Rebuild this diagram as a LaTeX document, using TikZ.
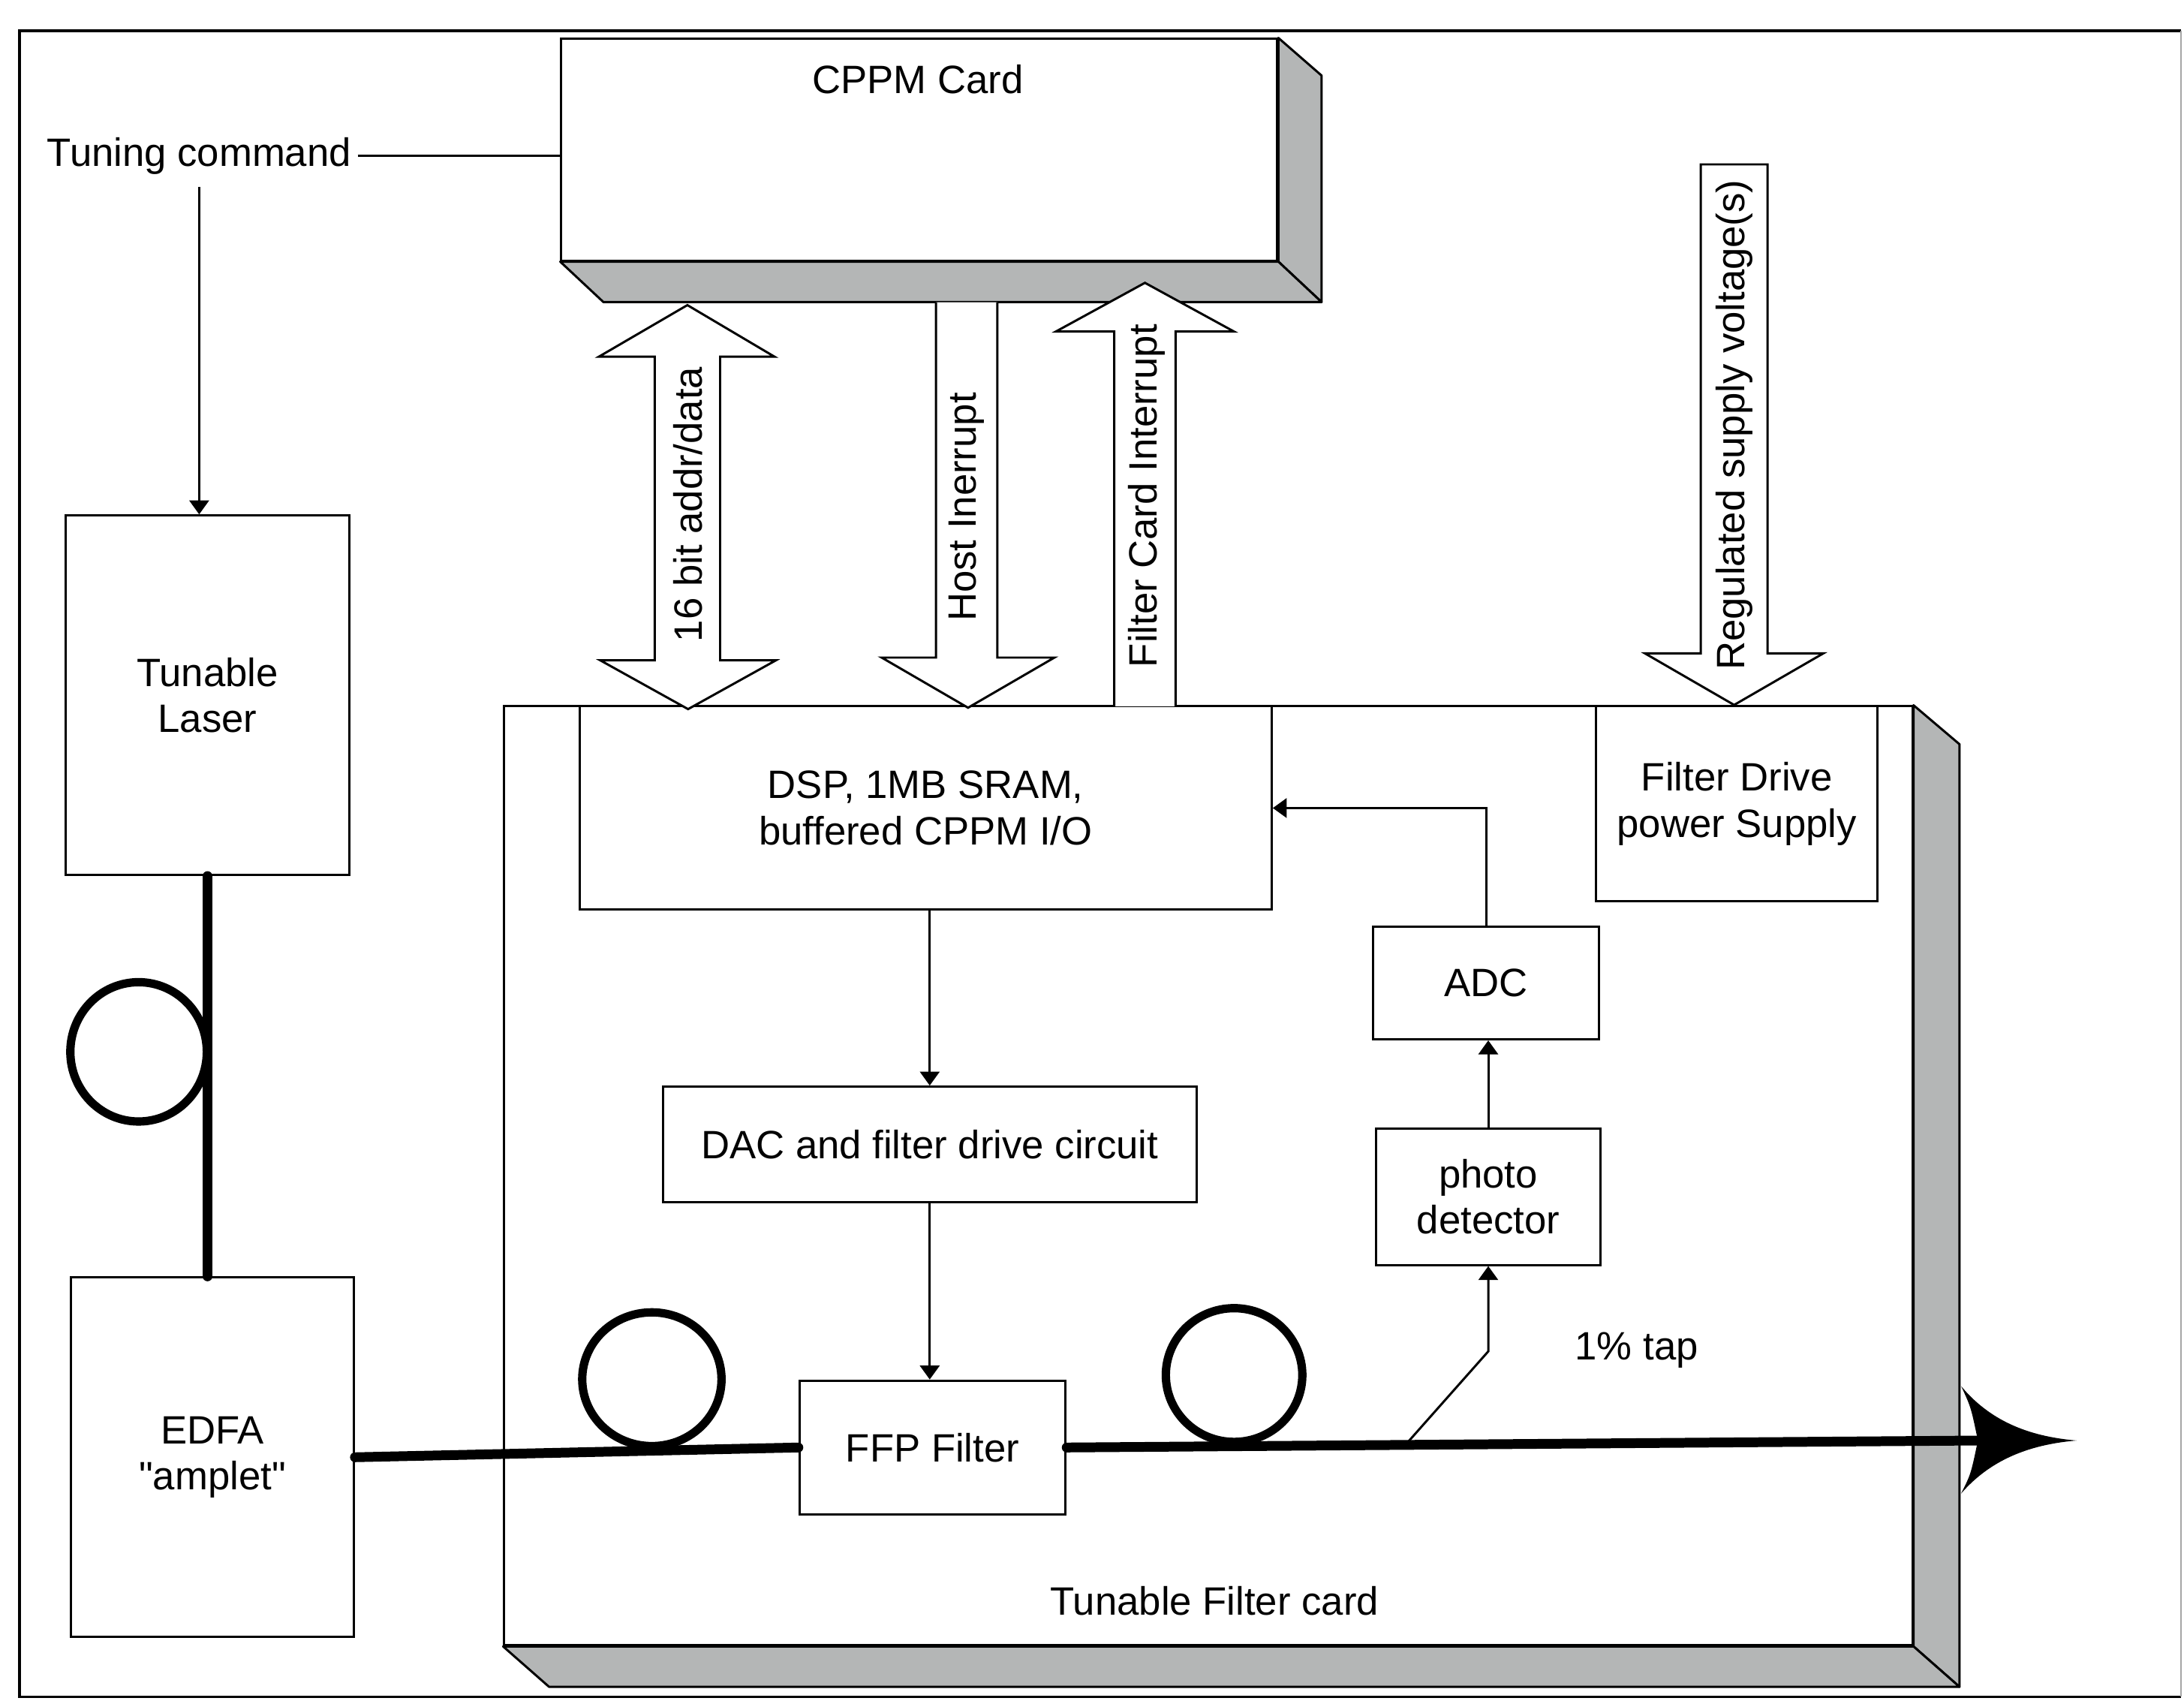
\documentclass[tikz,border=0pt]{standalone}
\usepackage{fontspec}
\newfontfamily\diagfont{Liberation Sans}
\usetikzlibrary{arrows.meta,calc}
\definecolor{facegray}{RGB}{180,182,182}
\begin{document}
\begin{tikzpicture}[x=0.5pt,y=-0.5pt,line width=0.8pt,
  font=\diagfont\fontsize{14.2}{16.5}\selectfont,
  blk/.style 2 args={draw,fill=white,inner sep=0pt,align=center,minimum width=#1*0.5pt,minimum height=#2*0.5pt},
  lbl/.style={inner sep=0pt,align=center},
  face/.style={draw,fill=facegray,line join=round},
  sig/.style={-{Triangle[length=5pt,width=7pt]}},
  fibre/.style={line width=3.5pt,line cap=round},
  loopf/.style={line width=3pt},
  bigarrow/.style={draw,fill=white,line join=miter}]
\useasboundingbox (0,0) rectangle (1568,1223);
% outer frame
\draw[line width=0.9pt] (1566,22) -- (14,22) -- (14,1218) -- (1566,1218);
\draw[line width=0.6pt,black!35] (1566,22) -- (1566,1218);

% CPPM card (3-D slab)
\node[blk={514}{159}] (cppm) at (660,107.5) {};
\draw[face] (cppm.north east) -- ($(cppm.north east)+(31,27)$) -- ($(cppm.south east)+(31,29)$) -- (cppm.south east) -- cycle;
\draw[face] (cppm.south west) -- (cppm.south east) -- ($(cppm.south east)+(31,29)$) -- ($(cppm.south west)+(31,29)$) -- cycle;
\node[lbl] (cppmlbl) at (659,57) {CPPM Card};

% Tunable filter card (3-D slab)
\node[blk={1011}{674}] (card) at (867.5,844) {};
\draw[face] (card.north east) -- ($(card.north east)+(33,28)$) -- ($(card.south east)+(33,29)$) -- (card.south east) -- cycle;
\draw[face] (card.south west) -- (card.south east) -- ($(card.south east)+(33,29)$) -- ($(card.south west)+(33,29)$) -- cycle;
\node[lbl] (cardlbl) at (872,1149) {Tunable Filter card};

% blocks
\node[blk={204}{258}] (laser) at (149,499) {Tunable\\Laser};
\node[blk={203}{258}] (edfa) at (152.5,1046) {EDFA\\"amplet"};
\node[blk={497}{146}] (dsp) at (664.5,580) {DSP, 1MB SRAM,\\buffered CPPM I/O};
\node[blk={202}{140}] (fdps) at (1247,577) {Filter Drive\\power Supply};
\node[blk={383}{83}] (dac) at (667.5,821.5) {DAC and filter drive circuit};
\node[blk={191}{96}] (ffp) at (669.5,1039) {FFP Filter};
\node[blk={162}{81}] (adc) at (1067,705.5) {ADC};
\node[blk={161}{98}] (pd) at (1068.5,859) {photo\\detector};

% tuning command
\node[lbl] (tc) at (143,112) {Tuning command};
\draw (tc.east) ++(4,0) -- (tc.east -| cppm.west);
\draw[sig] (tc.south) ++(0,8) -- (tc.south |- laser.north);

% signal connectors
\draw[sig] (dac.north |- dsp.south) -- (dac.north);
\draw[sig] (dac.south) -- (dac.south |- ffp.north);
\draw[sig] (pd.north) -- (pd.north |- adc.south);
\draw[sig] (adc.north) |- (dsp.east);
\coordinate (tapA) at (1010,1036);
\coordinate (tapB) at (1068.5,970);
\draw[sig] (tapA) -- (tapB) -- (pd.south);
\node[lbl] (taplbl) at (1175,969) {1\% tap};

% big block arrows
\draw[bigarrow] (470,256) -- (430,256) -- (493.5,219) -- (556,256) -- (517,256) -- (517,474) -- (557,474) -- (494,509) -- (431,474) -- (470,474) -- cycle;
\node[lbl,rotate=90] (addr) at (494,362) {16 bit addr/data};
\draw[bigarrow] (672,217) -- (672,472) -- (633,472) -- (695,508) -- (757,472) -- (716,472) -- (716,217);
\node[lbl,rotate=90] (hint) at (694,364) {Host Inerrupt};
\draw[bigarrow] (800,507) -- (800,238) -- (758,238) -- (822,203) -- (886,238) -- (844,238) -- (844,507);
\node[lbl,rotate=90] (fint) at (823,356) {Filter Card Interrupt};
\draw[bigarrow] (1221,118) -- (1221,469) -- (1181,469) -- (1245,506) -- (1309,469) -- (1269,469) -- (1269,118) -- cycle;
\node[lbl,rotate=90] (reg) at (1245,305) {Regulated supply voltage(s)};

% optical fibre
\draw[fibre] (laser.south) -- (laser.south |- edfa.north);
\draw[loopf] (99.5,755) ellipse [x radius=49, y radius=50];
\draw[fibre] (edfa.east) -- (ffp.west);
\draw[loopf] (468,990) ellipse [x radius=50, y radius=48];
\coordinate (notch) at (1420,1034);
\coordinate (tip) at (1491,1034);
\draw[fibre] (ffp.east) -- (notch);
\draw[loopf] (886,987) ellipse [x radius=49, y radius=48];
\fill (1408,995) .. controls (1428,1019) and (1455,1031) .. (tip)
  .. controls (1455,1037) and (1428,1049) .. (1408,1072)
  .. controls (1415,1058) .. (notch)
  .. controls (1415,1010) .. (1408,995) -- cycle;
\end{tikzpicture}
\end{document}
